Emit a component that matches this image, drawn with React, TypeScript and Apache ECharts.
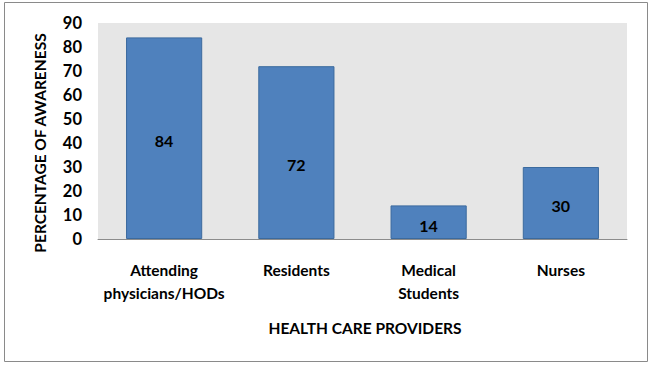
import React, { useEffect, useRef } from "react";
import * as echarts from "echarts";

const categories = ["Attending\nphysicians/HODs", "Residents", "Medical\nStudents", "Nurses"];
const values = [84, 72, 14, 30];
const labelOffsets = [[0, 2], [0, 12], [0, 3], [0, 2]];
const yTicks = { min: 0, max: 90, interval: 10 };
const yTitle = "PERCENTAGE OF AWARENESS";
const xTitle = "HEALTH CARE PROVIDERS";

const FONT = "Lato, 'Open Sans', sans-serif";

export default function App() {
  const ref = useRef<HTMLDivElement>(null);
  useEffect(() => {
    if (!ref.current) return;
    const chart = echarts.init(ref.current, undefined, { renderer: "svg" });
    chart.setOption({
      animation: false,
      backgroundColor: "#ffffff",
      textStyle: { fontFamily: FONT },
      grid: {
        left: 98,
        top: 23,
        right: 656 - 627,
        bottom: 367 - 239,
        show: true,
        backgroundColor: "#e6e6e6",
        borderWidth: 0,
      },
      xAxis: {
        type: "category",
        data: categories,
        axisLine: { lineStyle: { color: "#8c8c8c", width: 1 } },
        axisTick: { show: false },
        axisLabel: {
          color: "#000",
          fontWeight: "bold",
          fontSize: 15.5,
          fontFamily: FONT,
          lineHeight: 23,
          margin: 19,
          interval: 0,
        },
      },
      yAxis: {
        type: "value",
        min: yTicks.min,
        max: yTicks.max,
        interval: yTicks.interval,
        axisLine: { show: false },
        axisTick: { show: false },
        splitLine: { show: false },
        axisLabel: {
          color: "#000",
          fontWeight: "bold",
          fontSize: 16.5,
          fontFamily: FONT,
          margin: 16,
        },
      },
      series: [
        {
          type: "bar",
          barWidth: "57.6%",
          data: values.map((v, i) => ({
            value: v,
            label: { offset: labelOffsets[i] },
          })),
          itemStyle: { color: "#4f81bd", borderColor: "#3b6a9e", borderWidth: 1 },
          label: {
            show: true,
            position: "inside",
            color: "#000",
            fontWeight: "bold",
            fontSize: 16,
            fontFamily: FONT,
          },
        },
      ],
      graphic: [
        {
          type: "rect",
          shape: { x: 4.5, y: 2.5, width: 643, height: 359 },
          style: { fill: "none", stroke: "#8a8a8a", lineWidth: 1 },
          silent: true,
          z: -1,
        },
        {
          type: "text",
          x: 40,
          y: 143,
          rotation: Math.PI / 2,
          style: {
            text: yTitle,
            fill: "#000",
            fontSize: 15.5,
            fontWeight: "bold",
            fontFamily: FONT,
            align: "center",
            verticalAlign: "middle",
          },
        },
        {
          type: "text",
          x: 365,
          y: 328,
          style: {
            text: xTitle,
            fill: "#000",
            fontSize: 15.5,
            fontWeight: "bold",
            fontFamily: FONT,
            align: "center",
            verticalAlign: "middle",
          },
        },
      ],
    });
    return () => chart.dispose();
  }, []);
  return (
    <div
      ref={ref}
      style={{ position: "fixed", left: 0, top: 0, width: 656, height: 367 }}
    />
  );
}
